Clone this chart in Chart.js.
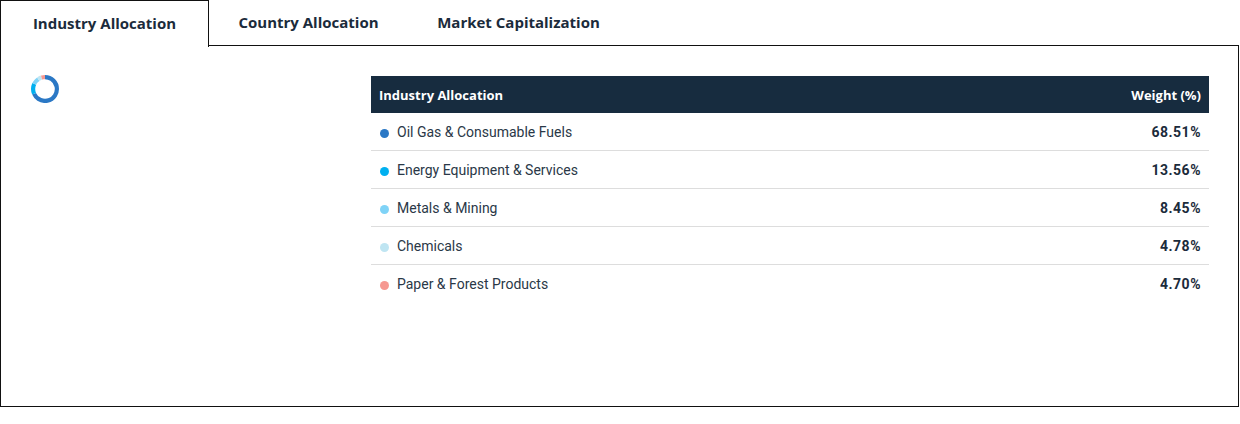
<!DOCTYPE html>
<html>
<head>
<meta charset="utf-8">
<script src="https://cdn.jsdelivr.net/npm/chart.js@4"></script>
<style>
  html, body { margin: 0; padding: 0; background: #fff; }
  body { width: 1240px; height: 424px; position: relative; font-family: Roboto, "Noto Sans", sans-serif; color: #1b2b3b; overflow: hidden; }
  .tabs { position: absolute; left: 0; top: 0; height: 46px; width: 1240px; }
  .tab { position: absolute; top: 0; height: 45px; line-height: 44px; font-family: "Open Sans", sans-serif; font-size: 15px; font-weight: 700; color: #1b2b3b; text-align: center; }
  .tab.active { left: 0; width: 207px; border: 1px solid #111; border-bottom: none; background: #fff; z-index: 2; height: 46px; }
  .panel { position: absolute; left: 0; top: 45px; width: 1237px; height: 360px; border: 1px solid #111; }
  #donutWrap { position: absolute; left: 31px; top: 75px; width: 28px; height: 28px; }
  table { position: absolute; left: 371px; top: 76px; width: 838px; border-collapse: collapse; font-size: 14px; }
  th { background: #172c3f; color: #fff; font-family: "Open Sans", sans-serif; font-size: 13px; font-weight: 700; height: 37px; padding: 0 8px; text-align: left; }
  th.w, td.w { text-align: right; }
  td { height: 37px; padding: 0 8px; border-bottom: 1px solid #ddd; color: #2a3847; }
  tr:last-child td { border-bottom: none; }
  td.w { font-weight: 700; color: #1b2b3b; letter-spacing: 0.5px; }
  .dot { display: inline-block; width: 9px; height: 9px; border-radius: 50%; margin: 0 8px 0 1px; vertical-align: -1px; }
</style>
</head>
<body>
<div class="tabs">
  <div class="tab active">Industry Allocation</div>
  <div class="tab" style="left:208px;width:201px;">Country Allocation</div>
  <div class="tab" style="left:409px;width:219px;">Market Capitalization</div>
</div>
<div class="panel"></div>
<div id="donutWrap"><canvas id="donut" width="28" height="28"></canvas></div>
<table id="tbl">
  <thead><tr><th>Industry Allocation</th><th class="w">Weight (%)</th></tr></thead>
  <tbody></tbody>
</table>
<script>
const industries = ['Oil Gas & Consumable Fuels', 'Energy Equipment & Services', 'Metals & Mining', 'Chemicals', 'Paper & Forest Products'];
const weights = [68.51, 13.56, 8.45, 4.78, 4.70];
const colors = ['#2b78c5', '#00b0f0', '#7fd3f7', '#bfe5f2', '#f69891'];

const tbody = document.querySelector('#tbl tbody');
industries.forEach((name, i) => {
  const tr = document.createElement('tr');
  tr.innerHTML = '<td><span class="dot" style="background:' + colors[i] + '"></span>' + name.replace('&', '&amp;') + '</td>' +
    '<td class="w">' + weights[i].toFixed(2) + '%</td>';
  tbody.appendChild(tr);
});

new Chart(document.getElementById('donut').getContext('2d'), {
  type: 'doughnut',
  data: {
    labels: industries,
    datasets: [{ data: weights, backgroundColor: colors, borderWidth: 0 }]
  },
  options: {
    responsive: false,
    animation: false,
    cutout: '70%',
    layout: { padding: 0 },
    plugins: { legend: { display: false }, tooltip: { enabled: false } }
  }
});
</script>
</body>
</html>
